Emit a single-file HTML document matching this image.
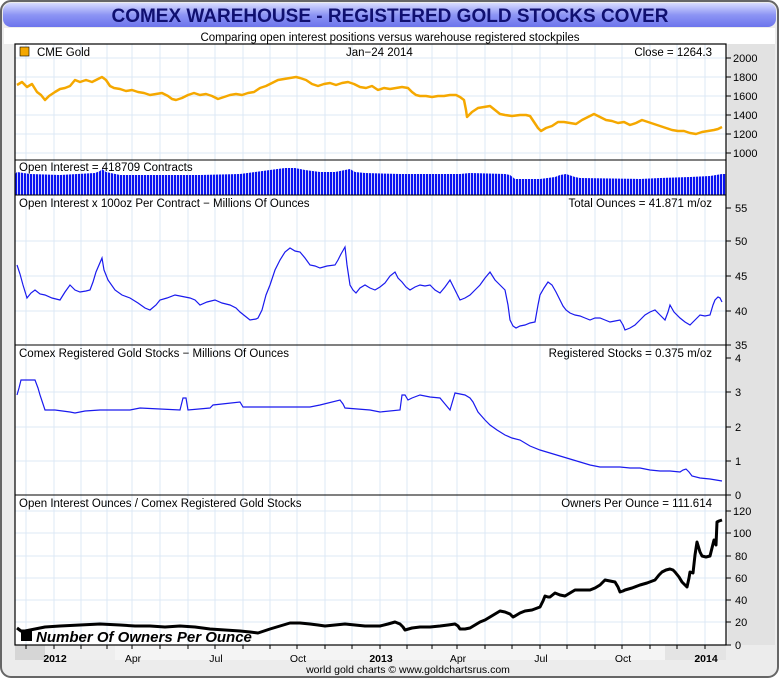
<!DOCTYPE html>
<html><head><meta charset="utf-8"><style>
body{margin:0;width:780px;height:680px;overflow:hidden;background:#fff;font-family:"Liberation Sans",sans-serif}
</style></head><body>
<svg width="780" height="680" xmlns="http://www.w3.org/2000/svg" font-family="Liberation Sans, sans-serif">
<defs>
<linearGradient id="tg" x1="0" y1="0" x2="0" y2="1"><stop offset="0" stop-color="#d8dcff"/><stop offset="0.5" stop-color="#8c94f4"/><stop offset="1" stop-color="#6c74ec"/></linearGradient>
<pattern id="bars" width="3" height="10" patternUnits="userSpaceOnUse"><rect width="2.2" height="10" fill="#0a14f0"/></pattern>
</defs>
<rect x="0" y="0" width="780" height="680" fill="#fff"/>
<rect x="1" y="1" width="777" height="676" rx="10" fill="#ececec" stroke="#666" stroke-width="2"/>
<rect x="3" y="3" width="773" height="24" rx="8" fill="url(#tg)"/>
<text x="390" y="22" text-anchor="middle" font-size="19" font-weight="bold" fill="#101070">COMEX WAREHOUSE - REGISTERED GOLD STOCKS COVER</text>
<rect x="4" y="28" width="771" height="16" fill="#fff"/>
<text x="390" y="41" text-anchor="middle" font-size="11.5" fill="#000">Comparing open interest positions versus warehouse registered stockpiles</text>
<rect x="728" y="44" width="47" height="601" fill="#e2e2e2"/>
<rect x="15" y="44" width="711" height="601" fill="#fff"/>
<!-- x axis bands -->
<rect x="15" y="645" width="30" height="15" fill="#d6d6d6"/>
<rect x="45" y="645" width="70" height="15" fill="#eeeeee"/>
<rect x="115" y="645" width="550" height="15" fill="#f4f4f4"/>
<rect x="665" y="645" width="61" height="15" fill="#e4e4e4"/>
<!-- vertical grid -->
<g stroke="#dce9f6" stroke-width="1">
<path d="M26 44V645M54 44V645M81 44V645M107 44V645M132 44V645M160 44V645M188 44V645M215 44V645M243 44V645M270 44V645M297 44V645M325 44V645M352 44V645M380 44V645M407 44V645M432 44V645M457 44V645M485 44V645M512 44V645M540 44V645M567 44V645M595 44V645M622 44V645M650 44V645M677 44V645M705 44V645"/>
<path d="M15 58H726M15 77H726M15 96H726M15 115H726M15 134H726M15 153H726"/>
<path d="M15 241H726M15 276H726M15 311H726"/>
<path d="M15 392H726M15 427H726M15 461H726"/>
<path d="M15 511H726M15 533H726M15 556H726M15 578H726M15 600H726M15 622H726"/>
</g>
<!-- gold -->
<polyline fill="none" stroke="#f5a800" stroke-width="2.5" stroke-linejoin="round" points="17,85 22,82 27,87 32,84 37,92 41,95 45,100 49,96 55,92 60,89 65,88 70,86 75,80 80,82 86,80 92,82 98,79 102,77 106,80 110,86 114,88 120,89 126,91 132,90 138,92 144,93 150,95 156,94 162,93 168,96 172,99 176,100 182,98 188,95 194,93 200,95 206,94 212,96 218,99 224,97 230,95 236,94 242,95 248,93 254,92 260,88 266,86 272,83 278,80 284,79 290,78 296,77 300,78 306,80 312,84 318,86 324,84 330,83 336,85 342,83 348,82 354,84 360,87 366,88 372,86 378,90 384,88 390,89 396,88 402,87 408,88 412,92 416,95 420,96 426,96 432,97 438,96 444,96 450,95 456,95 460,97 464,100 466,110 467,117 472,112 478,108 484,107 490,106 495,110 500,114 505,115 512,116 520,115 526,115 530,116 534,122 538,128 541,131 546,128 552,126 558,122 564,122 570,123 576,124 582,120 588,117 594,114 600,117 606,120 612,121 618,123 624,122 630,125 636,123 642,120 648,122 654,124 660,126 666,128 672,130 678,131 684,131 690,133 696,134 702,132 708,131 714,130 718,129 722,127"/>
<line x1="15" y1="160" x2="726" y2="160" stroke="#000"/>
<!-- OI bars -->
<polygon fill="url(#bars)" points="15,174 17,172 30,174 60,175 95,173 100,171 102,169 106,172 120,175 200,175 240,174 255,172 270,170 285,168 295,168 305,170 320,172 335,172 345,170 350,169 355,172 365,173 400,174 440,174 460,174 470,173 505,174 510,175 515,179 540,179 555,177 560,175 566,174 575,177 580,178 640,179 660,178 690,177 710,176 722,174 726,174 726,195 15,195"/>
<line x1="15" y1="195" x2="726" y2="195" stroke="#000"/>
<!-- total ounces -->
<polyline fill="none" stroke="#1a1aee" stroke-width="1.2" points="17,265 20,274 23,285 27,298 31,293 35,290 40,294 45,295 52,298 60,300 65,292 70,285 75,290 80,292 86,291 90,290 93,282 96,272 102,258 104,270 108,280 115,290 122,295 130,298 138,303 145,308 150,310 156,305 160,300 167,298 175,295 180,296 185,297 190,298 195,300 200,305 207,302 215,300 222,303 230,305 236,308 240,312 245,316 250,320 256,319 258,318 262,310 266,295 270,285 275,270 280,260 285,252 290,248 295,251 300,252 305,258 310,265 315,266 320,268 327,266 335,265 338,260 341,254 345,247 347,265 350,285 353,290 356,293 360,288 365,285 370,288 375,290 380,287 385,283 390,276 395,272 398,278 402,282 406,287 410,290 415,287 420,285 425,286 430,285 435,290 440,293 445,287 450,280 455,290 460,300 465,298 470,295 475,290 480,285 485,278 490,272 495,280 500,285 505,290 508,305 510,320 513,326 516,328 520,326 525,325 530,323 535,322 538,305 540,295 544,288 548,282 552,285 556,292 560,300 563,306 566,310 570,313 575,315 580,316 585,318 590,320 595,318 600,318 605,320 610,322 615,321 620,320 623,325 625,330 630,328 635,325 640,320 645,315 650,312 655,310 660,315 665,320 668,312 670,305 674,312 680,318 685,322 690,325 695,320 700,315 705,316 710,315 713,305 715,300 718,297 720,298 722,302"/>
<line x1="15" y1="345" x2="726" y2="345" stroke="#000"/>
<!-- registered -->
<polyline fill="none" stroke="#1a1aee" stroke-width="1.2" points="17,395 19,388 21,380 35,380 38,388 40,395 45,410 55,410 70,412 75,413 85,411 100,410 130,410 140,408 180,410 183,398 186,398 188,410 210,408 213,405 240,402 243,407 290,407 310,407 320,405 340,400 343,404 345,408 370,410 380,412 400,410 402,395 405,395 408,400 412,398 420,395 430,397 440,398 445,404 450,410 455,393 465,395 470,398 473,402 478,412 485,420 490,425 497,430 505,435 512,438 520,440 530,446 540,450 550,453 560,456 570,459 580,462 590,465 600,467 610,467 620,467 630,468 640,468 650,470 660,471 670,471 680,472 683,470 686,469 689,472 692,476 700,478 710,479 716,480 722,481"/>
<line x1="15" y1="495" x2="726" y2="495" stroke="#000"/>
<!-- ratio -->
<polyline fill="none" stroke="#000" stroke-width="3" stroke-linejoin="round" points="17,628 21,631 25,631 30,630 35,629 45,627 60,626 80,625 100,624 120,625 135,626 150,626 165,627 180,626 195,627 210,629 225,630 240,631 250,632 258,633 264,631 270,629 280,626 290,623 300,623 310,624 318,625 325,626 335,625 345,624 355,625 365,626 380,626 388,624 395,622 400,624 403,627 405,630 412,628 420,627 430,627 440,626 448,625 455,624 458,626 460,629 465,629 470,628 475,625 480,622 485,620 490,617 495,614 500,611 505,612 510,614 513,617 515,616 520,613 525,611 532,610 540,607 543,601 545,596 548,597 550,597 555,593 560,595 565,596 570,593 575,590 582,590 590,590 595,588 600,585 603,582 605,580 610,581 615,582 618,587 620,592 623,591 625,590 632,588 640,585 647,583 655,580 659,575 662,572 666,570 670,569 673,570 675,572 679,577 682,582 685,585 687,587 689,578 690,572 693,573 695,555 697,542 700,552 702,556 706,557 710,556 712,548 714,540 716,545 717,522 719,521 722,520"/>
<rect x="21" y="630" width="11" height="11" fill="#000"/>
<text x="36" y="642" font-size="15" font-weight="bold" font-style="italic" fill="#000">Number Of Owners Per Ounce</text>
<!-- frame -->
<rect x="15" y="44" width="711" height="601" fill="none" stroke="#000" stroke-width="1.2"/>
<!-- panel labels -->
<g font-size="11.5" fill="#000">
<rect x="20" y="47" width="9" height="9" fill="#f5a800" stroke="#000" stroke-width="0.6"/>
<text x="37" y="56">CME Gold</text>
<text x="346" y="56">Jan−24  2014</text>
<text x="712" y="56" text-anchor="end">Close = 1264.3</text>
<text x="19" y="171">Open Interest = 418709 Contracts</text>
<text x="19" y="207">Open Interest x 100oz Per Contract − Millions Of Ounces</text>
<text x="712" y="207" text-anchor="end">Total Ounces = 41.871 m/oz</text>
<text x="19" y="357">Comex Registered Gold Stocks − Millions Of Ounces</text>
<text x="712" y="357" text-anchor="end">Registered Stocks = 0.375 m/oz</text>
<text x="19" y="507">Open Interest Ounces / Comex Registered Gold Stocks</text>
<text x="712" y="507" text-anchor="end">Owners Per Ounce = 111.614</text>
</g>
<!-- right ticks/labels -->
<g stroke="#000"><path d="M726 58h5M726 77h5M726 96h5M726 115h5M726 134h5M726 153h5M726 208h5M726 241h5M726 276h5M726 311h5M726 345h5M726 358h5M726 392h5M726 427h5M726 461h5M726 495h5M726 511h5M726 533h5M726 556h5M726 578h5M726 600h5M726 622h5M726 645h5"/></g>
<g font-size="11" fill="#000">
<text x="733" y="62">2000</text><text x="733" y="81">1800</text><text x="733" y="100">1600</text><text x="733" y="119">1400</text><text x="733" y="138">1200</text><text x="733" y="157">1000</text>
<text x="735" y="212">55</text><text x="735" y="245">50</text><text x="735" y="280">45</text><text x="735" y="315">40</text><text x="735" y="349">35</text>
<text x="735" y="362">4</text><text x="735" y="396">3</text><text x="735" y="431">2</text><text x="735" y="465">1</text><text x="735" y="499">0</text>
<text x="733" y="515">120</text><text x="733" y="537">100</text><text x="735" y="560">80</text><text x="735" y="582">60</text><text x="735" y="604">40</text><text x="735" y="626">20</text><text x="735" y="649">0</text>
</g>
<!-- x ticks -->
<g stroke="#000"><path d="M26 645v4M54 645v4M81 645v4M107 645v4M132 645v4M160 645v4M188 645v4M215 645v4M243 645v4M270 645v4M297 645v4M325 645v4M352 645v4M380 645v4M407 645v4M432 645v4M457 645v4M485 645v4M512 645v4M540 645v4M567 645v4M595 645v4M622 645v4M650 645v4M677 645v4M705 645v4"/></g>
<g font-size="10.5" fill="#000" text-anchor="middle">
<text x="55" y="662" font-weight="bold">2012</text><text x="133" y="662">Apr</text><text x="216" y="662">Jul</text><text x="298" y="662">Oct</text>
<text x="381" y="662" font-weight="bold">2013</text><text x="458" y="662">Apr</text><text x="541" y="662">Jul</text><text x="623" y="662">Oct</text><text x="706" y="662" font-weight="bold">2014</text>
<text x="408" y="673" font-size="10.5">world gold charts © www.goldchartsrus.com</text>
</g>
</svg>
</body></html>
